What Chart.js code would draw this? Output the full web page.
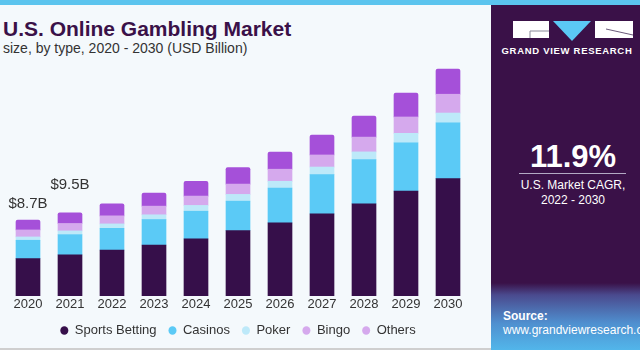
<!DOCTYPE html>
<html>
<head>
<meta charset="utf-8">
<script src="https://cdn.jsdelivr.net/npm/chart.js@4.4.1/dist/chart.umd.min.js"></script>
<style>
  html, body { margin: 0; padding: 0; }
  body {
    width: 640px; height: 350px; overflow: hidden; position: relative;
    background: #f4f9fc; font-family: 'Liberation Sans', Arial, sans-serif;
  }
  .stripe { position: absolute; left: 0; top: 0; width: 640px; height: 5px; background: #5bc4ee; z-index: 3; }
  .title { position: absolute; left: 3px; top: 18px; font-size: 21px; line-height: 21px; font-weight: bold; color: #3a1148; }
  .subtitle { position: absolute; left: 3px; top: 41px; font-size: 14px; line-height: 14px; color: #333; }
  .chart-box { position: absolute; left: 0; top: 58px; width: 480px; height: 289px; }
  .bottom-line { position: absolute; left: 0; top: 348px; width: 491px; height: 2px; background: #cfcfcf; }
  .panel { position: absolute; left: 491px; top: 0; width: 149px; height: 350px; background: #3a1148; }
  .logo { position: absolute; left: 22px; top: 21px; }
  .brand { position: absolute; left: 0; width: 149px; top: 46px; text-align: center; padding-left: 3px; box-sizing: border-box;
    color: #fff; font-weight: bold; font-size: 9.5px; letter-spacing: 0.7px; line-height: 10px; }
  .cagr { position: absolute; left: 0; width: 164px; top: 141px; text-align: center; color: #fff; font-weight: bold; font-size: 31px; line-height: 31px; }
  .rule { position: absolute; left: 28px; top: 173px; width: 107px; height: 1px; background: #b3a9c4; }
  .cagr-text { position: absolute; left: 0; width: 164px; top: 178px; text-align: center; color: #fff; font-size: 12px; line-height: 15px; }
  .source { position: absolute; left: 0; top: 283px; width: 149px; height: 67px;
    background: linear-gradient(#3a1148 0px, #4a4a8e 12px, #4f8fcf 40px, #52b6ea 67px); }
  .source div { position: absolute; left: 12px; color: #fff; font-size: 12px; line-height: 14px; white-space: nowrap; }
</style>
</head>
<body>
<div class="stripe"></div>
<div class="title">U.S. Online Gambling Market</div>
<div class="subtitle">size, by type, 2020 - 2030 (USD Billion)</div>
<div class="chart-box"><canvas id="market-chart"></canvas></div>
<div class="bottom-line"></div>

<div class="panel">
  <svg class="logo" width="121" height="21" viewBox="0 0 121 21">
    <rect x="0" y="0" width="36" height="17" fill="#fff"/>
    <polyline points="17,17 17,10 36,10" fill="none" stroke="#8a8a9a" stroke-width="1"/>
    <polygon points="40,0 78,0 59,20" fill="#5bc8f5"/>
    <rect x="82" y="0" width="38" height="17" fill="#fff"/>
    <line x1="93" y1="8" x2="120" y2="14" stroke="#6a5a7a" stroke-width="1"/>
  </svg>
  <div class="brand">GRAND VIEW RESEARCH</div>
  <div class="cagr">11.9%</div>
  <div class="rule"></div>
  <div class="cagr-text">U.S. Market CAGR,<br>2022 - 2030</div>
  <div class="source">
    <div style="top: 26px; font-weight: bold;">Source:</div>
    <div style="top: 40px;">www.grandviewresearch.com</div>
  </div>
</div>

<script>
const years = ['2020', '2021', '2022', '2023', '2024', '2025', '2026', '2027', '2028', '2029', '2030'];
const sportsBetting = [4.27, 4.71, 5.25, 5.83, 6.52, 7.47, 8.36, 9.39, 10.54, 11.99, 13.41];
const casinos = [2.10, 2.30, 2.48, 2.91, 3.17, 3.37, 3.98, 4.48, 5.06, 5.52, 6.39];
const poker = [0.38, 0.43, 0.51, 0.54, 0.66, 0.77, 0.77, 0.87, 0.87, 1.08, 1.11];
const bingo = [0.80, 0.84, 0.92, 0.99, 1.07, 1.18, 1.38, 1.38, 1.69, 1.87, 2.15];
const others = [1.14, 1.23, 1.38, 1.49, 1.69, 1.89, 1.95, 2.26, 2.41, 2.72, 2.87];
const totalLabels = ['$8.7B', '$9.5B'];

const seriesNames = ['Sports Betting', 'Casinos', 'Poker', 'Bingo', 'Others'];
const seriesColors = ['#360f4a', '#5bcaf6', '#bde9f9', '#d5a9ed', '#a550d9'];
// the legend in the original shows Others in the same light purple as Bingo
const legendColors = ['#360f4a', '#5bcaf6', '#bde9f9', '#d5a9ed', '#d5a9ed'];

Chart.defaults.font.family = "'Liberation Sans', Arial, sans-serif";
Chart.defaults.color = '#333';

// draws the total value above the first bars
const totalsPlugin = {
  id: 'totals',
  afterDatasetsDraw(chart) {
    const ctx = chart.ctx;
    const x = chart.scales.x;
    const y = chart.scales.y;
    const lift = [16, 28];
    ctx.save();
    ctx.font = "15px 'Liberation Sans', Arial, sans-serif";
    ctx.fillStyle = '#333';
    ctx.textAlign = 'center';
    ctx.textBaseline = 'middle';
    totalLabels.forEach((label, i) => {
      const total = chart.data.datasets.reduce((sum, ds) => sum + ds.data[i], 0);
      ctx.fillText(label, x.getPixelForValue(i), y.getPixelForValue(total) - lift[i]);
    });
    ctx.restore();
  }
};

const allSeries = [sportsBetting, casinos, poker, bingo, others];
const datasets = allSeries.map((values, i) => ({
  label: seriesNames[i],
  data: values,
  backgroundColor: seriesColors[i],
  borderWidth: 0,
  borderSkipped: false,
  borderRadius: i === allSeries.length - 1 ? { topLeft: 2, topRight: 2 } : 0,
  barThickness: 24
}));

new Chart(document.getElementById('market-chart'), {
  type: 'bar',
  data: { labels: years, datasets: datasets },
  options: {
    responsive: true,
    maintainAspectRatio: false,
    animation: false,
    layout: { padding: { left: 7, right: 11, top: 7, bottom: 0 } },
    scales: {
      x: {
        stacked: true,
        grid: { display: false, drawTicks: false },
        border: { display: false },
        ticks: { color: '#333', padding: 3, font: { size: 13, lineHeight: 0.77 } }
      },
      y: {
        stacked: true,
        display: false,
        min: 0,
        max: 26.4
      }
    },
    plugins: {
      tooltip: { enabled: false },
      legend: {
        position: 'bottom',
        maxHeight: 36,
        labels: {
          usePointStyle: true,
          pointStyle: 'circle',
          pointStyleWidth: 8,
          boxHeight: 6,
          padding: 12,
          color: '#333',
          font: { size: 13 },
          generateLabels(chart) {
            return Chart.defaults.plugins.legend.labels.generateLabels(chart).map((item, i) => {
              item.fillStyle = legendColors[i];
              item.strokeStyle = legendColors[i];
              item.lineWidth = 0;
              return item;
            });
          }
        }
      }
    }
  },
  plugins: [totalsPlugin]
});
</script>
</body>
</html>
